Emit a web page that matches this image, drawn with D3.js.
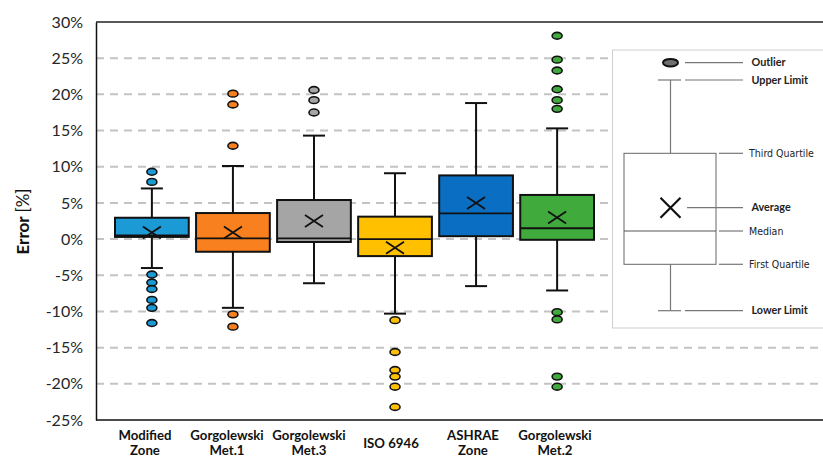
<!DOCTYPE html>
<html>
<head>
<meta charset="utf-8">
<script src="https://cdn.jsdelivr.net/npm/d3@7"></script>
<style>
  html, body { margin: 0; padding: 0; background: #fff; }
  svg { display: block; }
</style>
</head>
<body>
<svg id="chart" width="823" height="457"></svg>
<script>
// ---------- data ----------
const categories = [["Modified", "Zone"], ["Gorgolewski", "Met.1"], ["Gorgolewski", "Met.3"], ["ISO 6946"], ["ASHRAE", "Zone"], ["Gorgolewski", "Met.2"]];
const q1 = [0.3, -1.75, -0.4, -2.35, 0.4, -0.1];
const medians = [0.5, 0.1, 0.1, 0.0, 3.55, 1.5];
const q3 = [2.95, 3.6, 5.4, 3.1, 8.8, 6.1];
const means = [0.9, 0.9, 2.5, -1.2, 5.0, 3.0];
const whiskerLow = [-4.0, -9.5, -6.1, -10.3, -6.5, -7.1];
const whiskerHigh = [7.0, 10.1, 14.3, 9.1, 18.8, 15.3];
const outliers = [
  [9.3, 7.9, -4.9, -6.0, -6.9, -8.4, -9.5, -11.6],
  [20.1, 18.6, 12.9, -10.4, -12.1],
  [20.6, 19.2, 17.5],
  [-11.2, -15.6, -18.1, -19.0, -20.4, -23.2],
  [],
  [28.1, 24.8, 23.3, 20.7, 19.2, 18.0, -10.1, -11.1, -19.0, -20.4]
];
const colors = ["#1b9ad6", "#f8801f", "#a5a5a5", "#ffc000", "#0a6fc2", "#40aa3c"];
const yTicks = [30, 25, 20, 15, 10, 5, 0, -5, -10, -15, -20, -25];
const legendLabels = ["Outlier", "Upper Limit", "Third Quartile", "Average", "Median", "First Quartile", "Lower Limit"];

// ---------- layout ----------
const svg = d3.select("#chart");
const W = 823;
const plotLeft = 96, plotTop = 22, plotBottom = 420;
const FONT = "Lato, 'Open Sans', sans-serif";

const y = d3.scaleLinear().domain([-25, 30]).range([plotBottom, plotTop]);
const x = d3.scaleBand().domain(d3.range(categories.length)).range([115, 594]).paddingInner(0.09).paddingOuter(0);
const xLabel = d3.scalePoint().domain(d3.range(categories.length)).range([145, 555]);
const bw = x.bandwidth();
const cx = i => x(i) + bw / 2;

// gridlines
svg.append("g").selectAll("line")
  .data(yTicks.filter(t => t !== 30 && t !== -25))
  .join("line")
  .attr("x1", plotLeft).attr("x2", W)
  .attr("y1", d => y(d)).attr("y2", d => y(d))
  .attr("stroke", "#c3c3c3").attr("stroke-width", 2)
  .attr("stroke-dasharray", "8,6");

// frame lines (top, bottom)
svg.append("line").attr("x1", plotLeft).attr("x2", W).attr("y1", plotTop).attr("y2", plotTop).attr("stroke", "#222").attr("stroke-width", 1.5);
svg.append("line").attr("x1", plotLeft).attr("x2", W).attr("y1", plotBottom).attr("y2", plotBottom).attr("stroke", "#111").attr("stroke-width", 1.5);

// y axis
const yAxis = d3.axisLeft(y).tickValues(yTicks).tickSize(0).tickPadding(13).tickFormat(d => d + "%");
const gy = svg.append("g").attr("transform", `translate(${plotLeft},0)`).call(yAxis);
gy.select(".domain").attr("stroke", "#111").attr("stroke-width", 1.5);
gy.selectAll("text").attr("font-family", FONT).attr("font-size", 16).attr("fill", "#262626");

// y label
const yl = svg.append("text")
  .attr("transform", "translate(29,221.5) rotate(-90)")
  .attr("text-anchor", "middle")
  .attr("font-family", FONT)
  .attr("font-size", 17).attr("fill", "#111");
yl.append("tspan").attr("font-weight", "bold").text("Error ");
yl.append("tspan").attr("font-weight", "normal").text("[%]");

// x labels
const xl = svg.append("g").attr("font-family", FONT).attr("font-weight", "bold").attr("font-size", 13.2).attr("fill", "#111").attr("text-anchor", "middle");
categories.forEach((lines, i) => {
  const t = xl.append("text").attr("x", xLabel(i)).attr("y", lines.length === 1 ? 447.5 : 440);
  lines.forEach((l, k) => {
    t.append("tspan").attr("x", xLabel(i)).attr("dy", k === 0 ? 0 : 14.5).text(l);
  });
});

// boxes
const boxes = svg.append("g");
categories.forEach((c, i) => {
  const g = boxes.append("g");
  const xc = cx(i);
  const cap = 11;
  // whiskers
  g.append("line").attr("x1", xc).attr("x2", xc).attr("y1", y(whiskerHigh[i])).attr("y2", y(q3[i])).attr("stroke", "#111").attr("stroke-width", 2);
  g.append("line").attr("x1", xc).attr("x2", xc).attr("y1", y(q1[i])).attr("y2", y(whiskerLow[i])).attr("stroke", "#111").attr("stroke-width", 2);
  g.append("line").attr("x1", xc - cap).attr("x2", xc + cap).attr("y1", y(whiskerHigh[i])).attr("y2", y(whiskerHigh[i])).attr("stroke", "#111").attr("stroke-width", 2);
  g.append("line").attr("x1", xc - cap).attr("x2", xc + cap).attr("y1", y(whiskerLow[i])).attr("y2", y(whiskerLow[i])).attr("stroke", "#111").attr("stroke-width", 2);
  // box
  g.append("rect").attr("x", x(i)).attr("width", bw)
    .attr("y", y(q3[i])).attr("height", y(q1[i]) - y(q3[i]))
    .attr("fill", colors[i]).attr("stroke", "#111").attr("stroke-width", 2);
  // median
  g.append("line").attr("x1", x(i)).attr("x2", x(i) + bw).attr("y1", y(medians[i])).attr("y2", y(medians[i])).attr("stroke", "#111").attr("stroke-width", 1.8);
  // mean X
  const my = y(means[i]), hx = 9, hy = 6;
  g.append("path").attr("d", `M${xc - hx},${my - hy}L${xc + hx},${my + hy}M${xc - hx},${my + hy}L${xc + hx},${my - hy}`)
    .attr("stroke", "#111").attr("stroke-width", 1.8).attr("fill", "none");
  // outliers
  g.selectAll("ellipse").data(outliers[i]).join("ellipse")
    .attr("cx", xc).attr("cy", d => y(d)).attr("rx", 5).attr("ry", 3.4)
    .attr("fill", colors[i]).attr("stroke", "#111").attr("stroke-width", 1.6);
});

// ---------- legend ----------
const lg = svg.append("g");
lg.append("rect").attr("x", 612.5).attr("y", 50).attr("width", 215).attr("height", 278)
  .attr("fill", "#fff").attr("stroke", "#cfcfcf").attr("stroke-width", 1);
const lx = 670.5;
const lYs = [62.7, 80, 153.3, 207.7, 231, 264.3, 310.7];
const lc = "#777";
// whiskers
lg.append("line").attr("x1", lx).attr("x2", lx).attr("y1", lYs[1]).attr("y2", lYs[2]).attr("stroke", lc).attr("stroke-width", 1.2);
lg.append("line").attr("x1", lx).attr("x2", lx).attr("y1", lYs[5]).attr("y2", lYs[6]).attr("stroke", lc).attr("stroke-width", 1.2);
lg.append("line").attr("x1", 658).attr("x2", 681).attr("y1", lYs[1]).attr("y2", lYs[1]).attr("stroke", lc).attr("stroke-width", 1.2);
lg.append("line").attr("x1", 658).attr("x2", 681).attr("y1", lYs[6]).attr("y2", lYs[6]).attr("stroke", lc).attr("stroke-width", 1.2);
lg.append("rect").attr("x", 624).attr("y", lYs[2]).attr("width", 92).attr("height", lYs[5] - lYs[2])
  .attr("fill", "#fff").attr("stroke", "#666").attr("stroke-width", 1);
lg.append("line").attr("x1", 624).attr("x2", 716).attr("y1", lYs[4]).attr("y2", lYs[4]).attr("stroke", "#555").attr("stroke-width", 1);
lg.append("path").attr("d", `M${lx - 10},${lYs[3] - 10}L${lx + 10},${lYs[3] + 10}M${lx - 10},${lYs[3] + 10}L${lx + 10},${lYs[3] - 10}`)
  .attr("stroke", "#111").attr("stroke-width", 2.2).attr("fill", "none");
lg.append("ellipse").attr("cx", lx).attr("cy", lYs[0]).attr("rx", 7.5).attr("ry", 3.8)
  .attr("fill", "#6f6f6f").attr("stroke", "#111").attr("stroke-width", 2);
// leader lines
const leadStart = [685, 685, 719, 687, 719, 719, 685];
lg.selectAll("line.lead").data(lYs).join("line").attr("class", "lead")
  .attr("x1", (d, i) => leadStart[i]).attr("x2", 743).attr("y1", d => d).attr("y2", d => d)
  .attr("stroke", "#777").attr("stroke-width", 1.2);
// labels
const boldIdx = [0, 1, 3, 6];
lg.selectAll("text").data(legendLabels).join("text")
  .attr("x", (d, i) => boldIdx.includes(i) ? 751.5 : 749)
  .attr("y", (d, i) => lYs[i] + (boldIdx.includes(i) ? 3.7 : 3.8))
  .attr("font-family", (d, i) => boldIdx.includes(i) ? FONT : "'DejaVu Sans Condensed', 'DejaVu Sans', sans-serif")
  .attr("font-stretch", (d, i) => boldIdx.includes(i) ? null : "condensed")
  .attr("font-weight", (d, i) => boldIdx.includes(i) ? "bold" : "normal")
  .attr("font-size", (d, i) => boldIdx.includes(i) ? 10.8 : 10.5)
  .attr("fill", "#222")
  .text(d => d);
</script>
</body>
</html>
